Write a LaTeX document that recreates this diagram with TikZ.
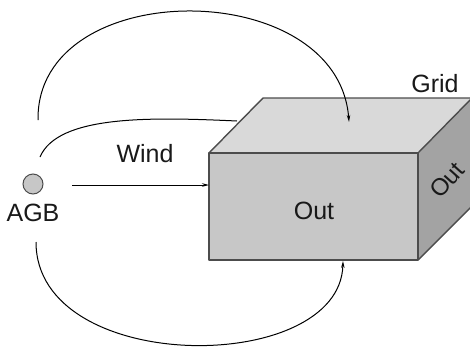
\documentclass[tikz,border=0pt]{standalone}
\usepackage{fontspec}
\setmainfont{Liberation Sans}
\usetikzlibrary{arrows.meta}
\begin{document}
\begin{tikzpicture}[x=1pt,y=-1pt,
  edge/.style={draw=black!70,line width=1.4pt,line join=round},
  flow/.style={draw=black,line width=1pt},
  tip/.style={-{Stealth[length=7pt,width=3.5pt]}},
  lbl/.style={font=\fontsize{25}{28}\selectfont,text=black!90,inner sep=0pt}]
\useasboundingbox (0,0) rectangle (470,348);
\begin{scope}
\clip (0,0) rectangle (470,348);
% box corners
\coordinate (ftl) at (209,153);
\coordinate (ftr) at (418,153);
\coordinate (fbr) at (418,260);
\coordinate (fbl) at (209,260);
\coordinate (btl) at (263,98);
\coordinate (btr) at (472,98);
\coordinate (bbr) at (472,206);
% faces
\fill[black!15] (ftl) -- (btl) -- (btr) -- (ftr) -- cycle;
\fill[black!36] (ftr) -- (btr) -- (bbr) -- (fbr) -- cycle;
\fill[black!22] (ftl) rectangle (fbr);
\draw[edge] (ftl) -- (btl) -- (btr) -- (bbr) -- (fbr);
\draw[edge] (ftr) -- (btr);
\draw[edge] (ftl) rectangle (fbr);
\end{scope}
% labels
\node[lbl] (out) at (314,211) {Out};
\node[lbl,rotate=48,font=\fontsize{24}{27}\selectfont] (outside) at (447,180) {Out};
\node[lbl] (grid) at (435,84) {Grid};
\node[lbl] (wind) at (145,154) {Wind};
% AGB source
\node[circle,draw=black!70,fill=black!22,line width=1pt,minimum size=20pt,inner sep=0pt] (agb) at (33,184) {};
\node[lbl] (agbl) at (33,213) {AGB};
% connectors
\coordinate (topstart) at (38,120);
\coordinate (topend) at (349,122);
\coordinate (midstart) at (40,157);
\coordinate (midend) at (237,121);
\coordinate (lowstart) at (36,242);
\coordinate (lowend) at (343,261);
\coordinate (windstart) at (72,185);
\draw[flow,tip] (topstart) .. controls (36,-25) and (338,-25) .. (topend);
\draw[flow] (midstart) .. controls (58,115) and (150,117) .. (midend);
\draw[flow,tip] (lowstart) .. controls (36,376) and (340,376) .. (lowend);
\draw[flow,tip] (windstart) -- (windstart -| ftl);
\end{tikzpicture}
\end{document}
